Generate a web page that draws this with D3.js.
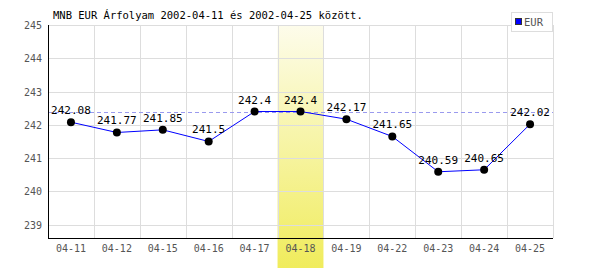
<!DOCTYPE html>
<html>
<head>
<meta charset="utf-8">
<script src="https://cdn.jsdelivr.net/npm/d3@7"></script>
<style>
  body { margin: 0; background: #fff; }
  text { font-family: "DejaVu Sans Mono", monospace; }
</style>
</head>
<body>
<script>
/* MNB EUR chart */
const dates = ["04-11","04-12","04-15","04-16","04-17","04-18","04-19","04-22","04-23","04-24","04-25"];
const eurValues = [242.08, 241.77, 241.85, 241.5, 242.4, 242.4, 242.17, 241.65, 240.59, 240.65, 242.02];
const yTicks = [239, 240, 241, 242, 243, 244, 245];
const highlightDate = "04-18";
const title = "MNB EUR Árfolyam 2002-04-11 és 2002-04-25 között.";

const svg = d3.select("body").append("svg")
    .attr("width", 600)
    .attr("height", 270);

const plotLeft = 48, plotRight = 553, plotTop = 25, plotBottom = 238;

const x = d3.scaleBand().domain(dates).range([plotLeft, plotRight]);
const y = d3.scaleLinear().domain([238.6, 245]).range([plotBottom, plotTop]);

// highlight gradient
const grad = svg.append("defs").append("linearGradient")
    .attr("id", "hl").attr("x1", 0).attr("y1", 0).attr("x2", 0).attr("y2", 1);
grad.append("stop").attr("offset", "0%").attr("stop-color", "#fdfceb");
grad.append("stop").attr("offset", "100%").attr("stop-color", "#f0ec5c");

svg.append("rect")
    .attr("x", x(highlightDate))
    .attr("y", plotTop)
    .attr("width", x.bandwidth())
    .attr("height", 268 - plotTop)
    .attr("fill", "url(#hl)");

// grid
svg.append("g").selectAll("line")
    .data(yTicks)
    .enter().append("line")
    .attr("x1", plotLeft).attr("x2", plotRight)
    .attr("y1", d => Math.round(y(d)) + 0.5)
    .attr("y2", d => Math.round(y(d)) + 0.5)
    .attr("stroke", "#dddddd");

svg.append("g").selectAll("line")
    .data(dates)
    .enter().append("line")
    .attr("x1", d => Math.round(x(d) + x.step()) + 0.5)
    .attr("x2", d => Math.round(x(d) + x.step()) + 0.5)
    .attr("y1", plotTop).attr("y2", plotBottom)
    .attr("stroke", "#dddddd");

// max dashed line
svg.append("line")
    .attr("x1", plotLeft).attr("x2", plotRight)
    .attr("y1", Math.round(y(d3.max(eurValues))) + 0.5)
    .attr("y2", Math.round(y(d3.max(eurValues))) + 0.5)
    .attr("stroke", "#9a9aee")
    .attr("stroke-dasharray", "4,3");

// axes
svg.append("line")
    .attr("x1", plotLeft + 0.5).attr("x2", plotLeft + 0.5)
    .attr("y1", plotTop).attr("y2", plotBottom + 0.5)
    .attr("stroke", "#000");
svg.append("line")
    .attr("x1", plotLeft).attr("x2", plotRight)
    .attr("y1", plotBottom + 0.5).attr("y2", plotBottom + 0.5)
    .attr("stroke", "#000");

// y labels
svg.append("g").selectAll("text")
    .data(yTicks)
    .enter().append("text")
    .attr("x", 42)
    .attr("y", d => y(d) + 4)
    .attr("text-anchor", "end")
    .attr("font-size", "10px")
    .attr("fill", "#555")
    .text(d => d);

// x labels
svg.append("g").selectAll("text")
    .data(dates)
    .enter().append("text")
    .attr("x", d => x(d) + x.bandwidth() / 2)
    .attr("y", 252)
    .attr("text-anchor", "middle")
    .attr("font-size", "10px")
    .attr("fill", "#555")
    .text(d => d);

// line
const line = d3.line()
    .x((d, i) => x(dates[i]) + x.bandwidth() / 2)
    .y(d => y(d));

svg.append("path")
    .datum(eurValues)
    .attr("d", line)
    .attr("fill", "none")
    .attr("stroke", "#0000ff")
    .attr("stroke-width", 1);

svg.append("g").selectAll("circle")
    .data(eurValues)
    .enter().append("circle")
    .attr("cx", (d, i) => x(dates[i]) + x.bandwidth() / 2)
    .attr("cy", d => y(d))
    .attr("r", 4)
    .attr("fill", "#000");

svg.append("g").selectAll("text")
    .data(eurValues)
    .enter().append("text")
    .attr("x", (d, i) => x(dates[i]) + x.bandwidth() / 2)
    .attr("y", d => y(d) - 8)
    .attr("text-anchor", "middle")
    .attr("font-size", "11px")
    .attr("fill", "#000")
    .text(d => d);

// title
svg.append("text")
    .attr("x", 53)
    .attr("y", 19)
    .attr("font-size", "10.5px")
    .attr("fill", "#000")
    .text(title);

// legend
svg.append("rect")
    .attr("x", 511.5).attr("y", 12.5)
    .attr("width", 41).attr("height", 19)
    .attr("fill", "#fff")
    .attr("stroke", "#dddddd");
svg.append("rect")
    .attr("x", 515.5).attr("y", 18.5)
    .attr("width", 6).attr("height", 6)
    .attr("fill", "#0000ff")
    .attr("stroke", "#333");
svg.append("text")
    .attr("x", 524)
    .attr("y", 25.5)
    .attr("font-size", "10.5px")
    .attr("fill", "#555")
    .text("EUR");
</script>
</body>
</html>
